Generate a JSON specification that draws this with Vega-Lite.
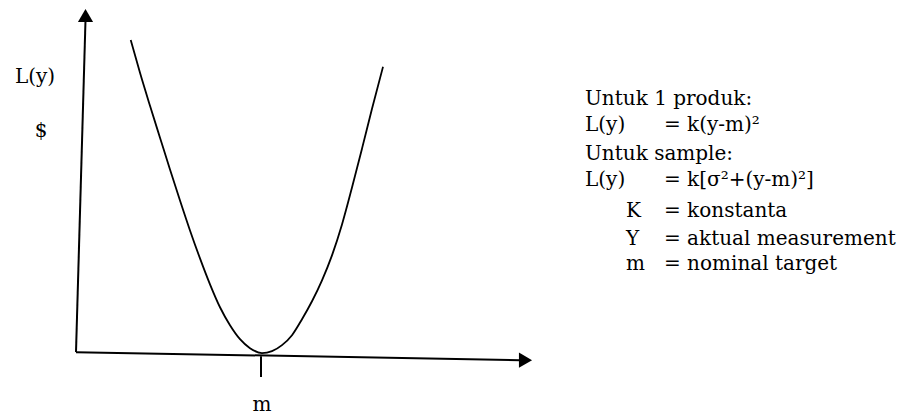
{
  "$schema": "https://vega.github.io/schema/vega-lite/v6.json",
  "width": 898,
  "height": 415,
  "autosize": {"type": "fit", "contains": "padding"},
  "padding": 0,
  "background": "white",
  "config": {"view": {"stroke": null}},
  "datasets": {
    "curve": [
      {"x": 130.7, "y": 40}, {"x": 140, "y": 73}, {"x": 150, "y": 106}, {"x": 160, "y": 138},
      {"x": 170, "y": 170}, {"x": 180, "y": 201}, {"x": 190, "y": 231}, {"x": 200, "y": 259},
      {"x": 210, "y": 285}, {"x": 220, "y": 308}, {"x": 230, "y": 326}, {"x": 240, "y": 340},
      {"x": 250, "y": 349}, {"x": 262, "y": 354}, {"x": 272, "y": 352}, {"x": 282, "y": 346},
      {"x": 292, "y": 336}, {"x": 302, "y": 320}, {"x": 312, "y": 302}, {"x": 322, "y": 281},
      {"x": 332, "y": 256}, {"x": 342, "y": 225}, {"x": 352, "y": 188}, {"x": 362, "y": 149},
      {"x": 372, "y": 109}, {"x": 383, "y": 67}
    ],
    "axes": [
      {"name": "vertical", "x": 76, "y": 353, "x2": 85.5, "y2": 20},
      {"name": "horizontal", "x": 76, "y": 353, "x2": 520, "y2": 361},
      {"name": "tick m", "x": 261, "y": 357, "x2": 261, "y2": 378}
    ],
    "arrows": [
      {"name": "up", "x": 85.5, "y": 15.5, "shape": "triangle-up"},
      {"name": "right", "x": 525.5, "y": 361, "shape": "triangle-right"}
    ],
    "labels": [
      {"text": "L(y)", "x": 35, "y": 83, "anchor": "center"},
      {"text": "$", "x": 41, "y": 137, "anchor": "center"},
      {"text": "m", "x": 262, "y": 412, "anchor": "center"},
      {"text": "Untuk 1 produk:", "x": 585, "y": 105, "anchor": "left"},
      {"text": "L(y)", "x": 585, "y": 131, "anchor": "left"},
      {"text": "= k(y-m)²", "x": 664, "y": 131, "anchor": "left"},
      {"text": "Untuk sample:", "x": 585, "y": 160, "anchor": "left"},
      {"text": "L(y)", "x": 585, "y": 186, "anchor": "left"},
      {"text": "= k[σ²+(y-m)²]", "x": 664, "y": 186, "anchor": "left"},
      {"text": "K", "x": 626, "y": 218, "anchor": "left"},
      {"text": "= konstanta", "x": 664, "y": 218, "anchor": "left"},
      {"text": "Y", "x": 626, "y": 246, "anchor": "left"},
      {"text": "= aktual measurement", "x": 664, "y": 246, "anchor": "left"},
      {"text": "m", "x": 626, "y": 271, "anchor": "left"},
      {"text": "= nominal target", "x": 664, "y": 271, "anchor": "left"}
    ]
  },
  "encoding": {
    "x": {"field": "x", "type": "quantitative", "scale": {"domain": [0, 898], "nice": false, "zero": false}, "axis": null},
    "y": {"field": "y", "type": "quantitative", "scale": {"domain": [0, 415], "nice": false, "zero": false, "reverse": true}, "axis": null}
  },
  "layer": [
    {
      "data": {"name": "axes"},
      "mark": {"type": "rule", "color": "black", "strokeWidth": 2},
      "encoding": {
        "x2": {"field": "x2"},
        "y2": {"field": "y2"}
      }
    },
    {
      "data": {"name": "arrows"},
      "mark": {"type": "point", "filled": true, "color": "black", "size": 230, "opacity": 1},
      "encoding": {
        "shape": {"field": "shape", "type": "nominal", "scale": null}
      }
    },
    {
      "data": {"name": "curve"},
      "mark": {"type": "line", "color": "black", "strokeWidth": 1.8, "interpolate": "monotone"},
      "encoding": {}
    },
    {
      "data": {"name": "labels"},
      "transform": [{"filter": "datum.anchor == 'left'"}],
      "mark": {"type": "text", "align": "left", "baseline": "alphabetic", "font": "DejaVu Serif", "fontSize": 20, "color": "black"},
      "encoding": {"text": {"field": "text"}}
    },
    {
      "data": {"name": "labels"},
      "transform": [{"filter": "datum.anchor == 'center'"}],
      "mark": {"type": "text", "align": "center", "baseline": "alphabetic", "font": "DejaVu Serif", "fontSize": 20, "color": "black"},
      "encoding": {"text": {"field": "text"}}
    }
  ]
}
